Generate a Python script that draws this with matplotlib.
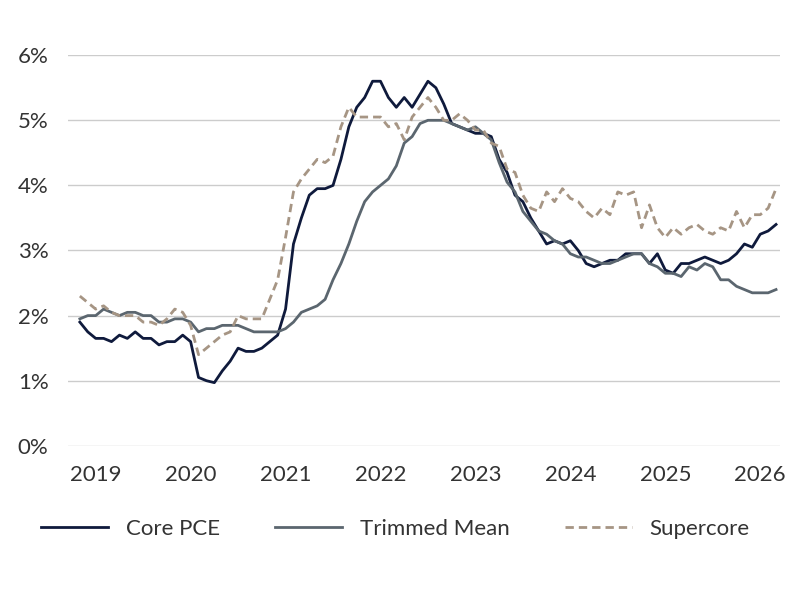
import numpy as np
import matplotlib.pyplot as plt
from matplotlib.ticker import FuncFormatter

plt.rcParams['font.family'] = ['Lato', 'DejaVu Sans']

# monthly values, Jan 2019 onward
core_pce = [1.9, 1.75, 1.65, 1.65, 1.6, 1.7, 1.65, 1.75, 1.65, 1.65, 1.55, 1.6,
            1.6, 1.7, 1.6, 1.05, 1.0, 0.97, 1.15, 1.3, 1.5, 1.45, 1.45, 1.5,
            1.6, 1.7, 2.1, 3.1, 3.5, 3.85, 3.95, 3.95, 4.0, 4.4, 4.9, 5.2,
            5.35, 5.6, 5.6, 5.35, 5.2, 5.35, 5.2, 5.4, 5.6, 5.5, 5.25, 4.95,
            4.9, 4.85, 4.8, 4.8, 4.75, 4.4, 4.2, 3.85, 3.75, 3.5, 3.3, 3.1,
            3.15, 3.1, 3.15, 3.0, 2.8, 2.75, 2.8, 2.85, 2.85, 2.95, 2.95, 2.95,
            2.8, 2.95, 2.7, 2.65, 2.8, 2.8, 2.85, 2.9, 2.85, 2.8, 2.85, 2.95,
            3.1, 3.05, 3.25, 3.3, 3.4]
trimmed_mean = [1.95, 2.0, 2.0, 2.1, 2.05, 2.0, 2.05, 2.05, 2.0, 2.0, 1.9, 1.9,
                1.95, 1.95, 1.9, 1.75, 1.8, 1.8, 1.85, 1.85, 1.85, 1.8, 1.75, 1.75,
                1.75, 1.75, 1.8, 1.9, 2.05, 2.1, 2.15, 2.25, 2.55, 2.8, 3.1, 3.45,
                3.75, 3.9, 4.0, 4.1, 4.3, 4.65, 4.75, 4.95, 5.0, 5.0, 5.0, 4.95,
                4.9, 4.85, 4.9, 4.8, 4.7, 4.35, 4.05, 3.9, 3.6, 3.45, 3.3, 3.25,
                3.15, 3.1, 2.95, 2.9, 2.9, 2.85, 2.8, 2.8, 2.85, 2.9, 2.95, 2.95,
                2.8, 2.75, 2.65, 2.65, 2.6, 2.75, 2.7, 2.8, 2.75, 2.55, 2.55, 2.45,
                2.4, 2.35, 2.35, 2.35, 2.4]
supercore = [2.3, 2.2, 2.1, 2.15, 2.05, 2.0, 2.0, 2.0, 1.9, 1.9, 1.85, 1.95,
             2.1, 2.05, 1.85, 1.4, 1.5, 1.6, 1.7, 1.75, 2.0, 1.95, 1.95, 1.95,
             2.25, 2.55, 3.2, 3.9, 4.1, 4.25, 4.4, 4.35, 4.45, 4.9, 5.2, 5.05,
             5.05, 5.05, 5.05, 4.9, 4.95, 4.7, 5.05, 5.2, 5.35, 5.2, 5.0, 5.0,
             5.1, 5.0, 4.85, 4.85, 4.65, 4.6, 4.25, 4.2, 3.85, 3.65, 3.6, 3.9,
             3.75, 3.95, 3.8, 3.75, 3.6, 3.5, 3.65, 3.55, 3.9, 3.85, 3.9, 3.35,
             3.7, 3.35, 3.2, 3.35, 3.25, 3.35, 3.4, 3.3, 3.25, 3.35, 3.3, 3.6,
             3.35, 3.55, 3.55, 3.65, 3.95]
years = ['2019', '2020', '2021', '2022', '2023', '2024', '2025', '2026']

x = np.arange(len(core_pce))

fig, ax = plt.subplots(figsize=(8, 6), dpi=100)
fig.subplots_adjust(left=0.085, right=0.975, top=0.908, bottom=0.257)

ax.plot(x, core_pce, color='#0f1a3c', lw=2, label='Core PCE')
ax.plot(x, trimmed_mean, color='#5b666f', lw=2, label='Trimmed Mean')
ax.plot(x, supercore, color='#a69584', lw=2, ls=(0, (3, 1.8)), label='Supercore')

ax.set_ylim(0, 6)
ax.set_yticks(range(0, 7))
ax.yaxis.set_major_formatter(FuncFormatter(lambda v, p: f'{v:.0f}%'))
ax.set_xlim(-1.5, len(x) - 0.5)
ax.set_xticks([2 + 12 * i for i in range(len(years))])
ax.set_xticklabels(years)
ax.grid(axis='y', color='#cccccc', lw=1)
ax.set_axisbelow(True)
for s in ax.spines.values():
    s.set_visible(False)
ax.tick_params(length=0, labelsize=16, colors='#333333', pad=14)

ax.legend(loc='upper center', bbox_to_anchor=(0.46, -0.135), ncol=3, frameon=False,
          fontsize=16, handlelength=3, columnspacing=2.5, labelcolor='#333333')

fig.savefig('out.png', dpi=100)
